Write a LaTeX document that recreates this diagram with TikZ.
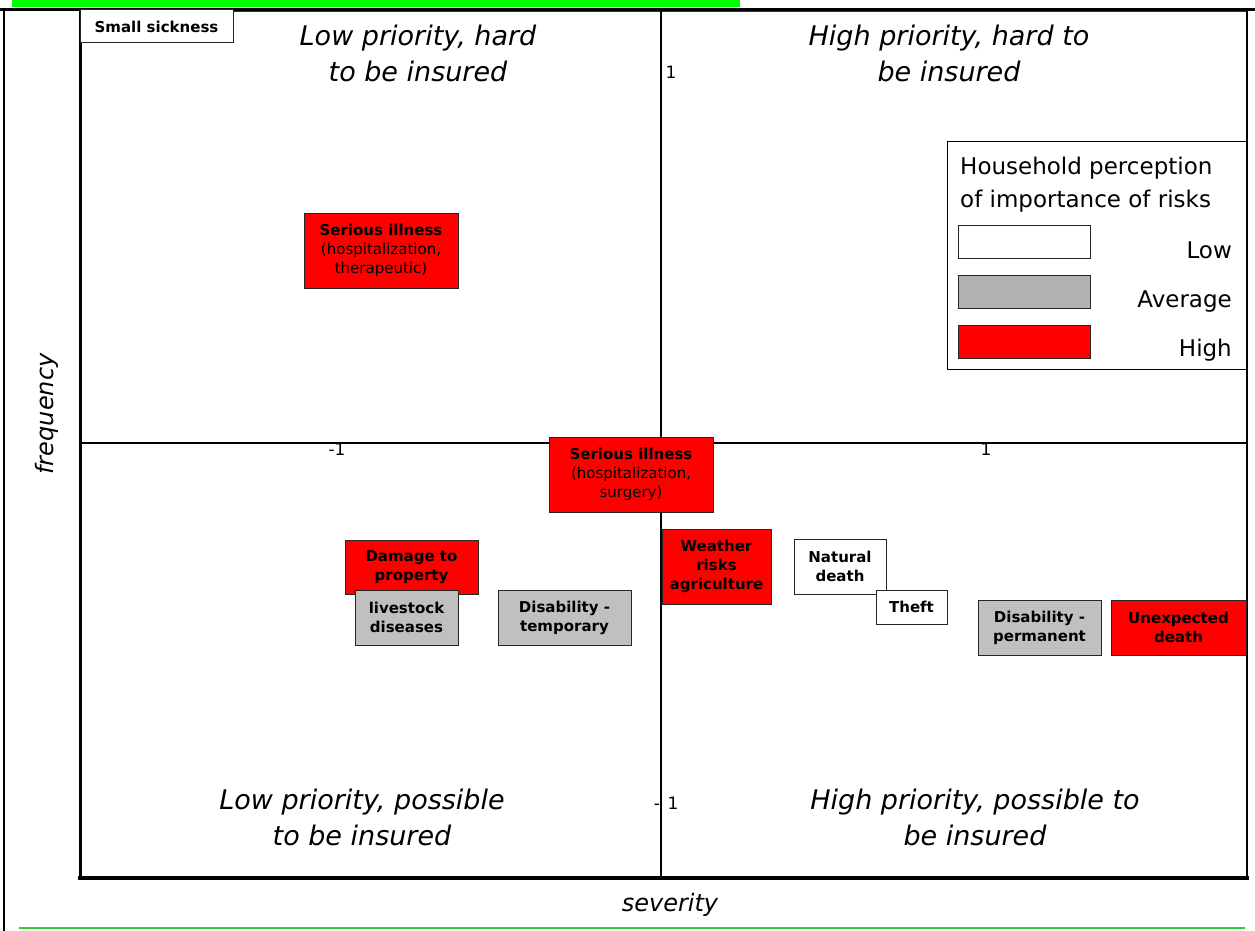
\documentclass[tikz,border=0pt]{standalone}
\usepackage{fontspec}
\setmainfont{DejaVu Sans}
\definecolor{riskred}{RGB}{255,0,0}
\definecolor{boxgray}{RGB}{192,192,192}
\definecolor{keygray}{RGB}{178,178,178}
\definecolor{hlgreen}{RGB}{0,255,0}
\definecolor{rulegreen}{RGB}{51,204,51}
\tikzset{
  risk/.style={draw=black!85, line width=1pt, align=center, inner sep=0pt,
    font=\fontsize{15}{19}\selectfont\bfseries},
  lowrisk/.style={risk, fill=white},
  avgrisk/.style={risk, fill=boxgray},
  highrisk/.style={risk, fill=riskred},
  quad/.style={font=\fontsize{27}{36}\selectfont\itshape, anchor=base, inner sep=0pt},
  axislabel/.style={font=\fontsize{24}{28}\selectfont\itshape, inner sep=0pt},
  ticklabel/.style={font=\fontsize{17}{19}\selectfont, inner sep=0pt},
  keytext/.style={font=\fontsize{23}{28}\selectfont, inner sep=0pt},
  swatch/.style={draw=black!85, line width=1pt, minimum width=132pt, minimum height=33pt,
    inner sep=0pt, anchor=north west},
}
\begin{document}
\begin{tikzpicture}[x=1pt,y=-1pt]
\useasboundingbox (0,0) rectangle (1255,931);

% highlighted strip and page rules
\fill[hlgreen] (12,0) rectangle (740,7);
\draw[line width=3pt] (0,10) -- (1255,10);
\draw[line width=2pt] (3.5,10) -- (3.5,931);
\draw[rulegreen, line width=1.5pt] (19,928) -- (1245,928);

% plot frame
\draw[line width=1pt, black!80] (80,11.5) rectangle (1247,877);
\draw[line width=2pt] (1247,11) -- (1247,877);
\draw[line width=3pt] (80,10) -- (80,879.5);
\draw[line width=4pt] (78,877.5) -- (1249,877.5);

% axes
\coordinate (xl) at (80,443);
\coordinate (xr) at (1247,443);
\coordinate (yt) at (661,10);
\coordinate (yb) at (661,877);
\draw[line width=1.6pt] (xl) -- (xr);
\draw[line width=1.6pt] (yt) -- (yb);

% tick labels
\node[ticklabel, anchor=base] (ytop) at (671,79) {1};
\node[ticklabel, anchor=base] (xneg) at (337,455) {-1};
\node[ticklabel, anchor=base] (xpos) at (986,455) {1};
\node[ticklabel, anchor=base] (ybotm) at (657,809) {-};
\node[ticklabel, anchor=base] (ybot) at (673,809) {1};

% quadrant captions
\node[quad] (q1a) at (418,46) {Low priority, hard};
\node[quad] (q1b) at (418,82) {to be insured};
\node[quad] (q2a) at (949,46) {High priority, hard to};
\node[quad] (q2b) at (949,82) {be insured};
\node[quad] (q3a) at (362,809) {Low priority, possible};
\node[quad] (q3b) at (362,845) {to be insured};
\node[quad] (q4a) at (975,809) {High priority, possible to};
\node[quad] (q4b) at (975,845) {be insured};

% axis titles
\node[axislabel, anchor=base] (sev) at (670,911) {severity};
\node[axislabel, rotate=90] (freq) at (47,414) {frequency};

% risks
\node[lowrisk, minimum width=153pt, minimum height=33pt] (small) at (156.5,26.5) {Small sickness};
\node[highrisk, minimum width=154pt, minimum height=75pt] (illther) at (381,250.5)
  {Serious illness\\{\mdseries(hospitalization,}\\{\mdseries therapeutic)}};
\node[highrisk, minimum width=164pt, minimum height=75pt] (illsurg) at (631,474.5)
  {Serious illness\\{\mdseries(hospitalization,}\\{\mdseries surgery)}};
\node[highrisk, minimum width=133pt, minimum height=54pt] (damage) at (411.5,567) {Damage to\\property};
\node[avgrisk, minimum width=103pt, minimum height=55pt] (livestock) at (406.5,617.5) {livestock\\diseases};
\node[avgrisk, minimum width=133pt, minimum height=55pt] (distemp) at (564.5,617.5) {Disability -\\temporary};
\node[highrisk, minimum width=109pt, minimum height=75pt] (weather) at (716.5,566.5) {Weather\\risks\\agriculture};
\node[lowrisk, minimum width=92pt, minimum height=55pt] (natural) at (840,566.5) {Natural\\death};
\node[lowrisk, minimum width=71pt, minimum height=34pt] (theft) at (911.5,607) {Theft};
\node[avgrisk, minimum width=123pt, minimum height=55pt] (disperm) at (1039.5,627.5) {Disability -\\permanent};
\node[highrisk, minimum width=135pt, minimum height=55pt] (unexp) at (1178.5,627.5) {Unexpected\\death};

% key
\node[draw, line width=1.2pt, minimum width=299pt, minimum height=228pt, inner sep=0pt,
  anchor=north west] (key) at (947,141) {};
\node[keytext, anchor=base west] (keyt1) at (960,175) {Household perception};
\node[keytext, anchor=base west] (keyt2) at (960,207) {of importance of risks};
\node[swatch, fill=white] (klow) at (958,225) {};
\node[swatch, fill=keygray] (kavg) at (958,275) {};
\node[swatch, fill=riskred] (khigh) at (958,325) {};
\node[keytext, anchor=base east] (llow) at (1232,258) {Low};
\node[keytext, anchor=base east] (lavg) at (1232,307) {Average};
\node[keytext, anchor=base east] (lhigh) at (1232,356) {High};
\end{tikzpicture}
\end{document}
